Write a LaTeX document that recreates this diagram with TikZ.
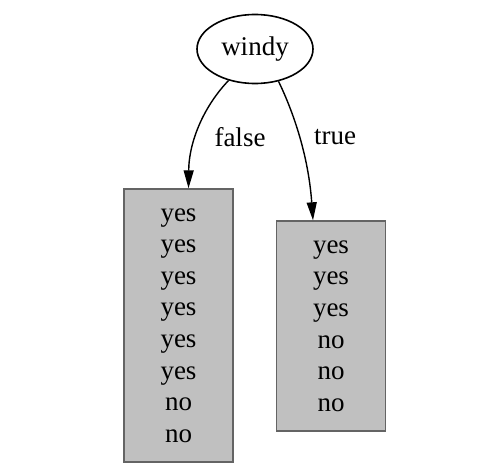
\documentclass[tikz,border=0pt]{standalone}
\usepackage{fontspec}
\setmainfont{Liberation Serif}
\usetikzlibrary{shapes.geometric,arrows.meta}
\definecolor{leafgray}{RGB}{192,192,192}
\definecolor{leafedge}{RGB}{100,100,100}
\tikzset{
  decision/.style={ellipse,draw=black,line width=1.6pt,minimum width=116pt,minimum height=69pt,inner sep=0pt,font=\fontsize{27}{31.6}\selectfont},
  leaf/.style={rectangle,draw=leafedge,fill=leafgray,line width=1.4pt,minimum width=109pt,align=center,inner sep=0pt,font=\fontsize{27}{31.6}\selectfont},
  branch/.style={line width=1.4pt,-{Triangle[length=18pt,width=10pt]}},
  elabel/.style={font=\fontsize{27}{31.6}\selectfont,inner sep=0pt}
}
\begin{document}
\begin{tikzpicture}[x=1pt,y=-1pt]
\useasboundingbox (0,0) rectangle (492,471);
\node[decision] (w) at (255,49) {windy};
\node[leaf,minimum height=273pt] (l) at (178.5,325.5) {yes\\yes\\yes\\yes\\yes\\yes\\no\\no};
\node[leaf,minimum height=210pt] (r) at (331,326) {yes\\yes\\yes\\no\\no\\no};
\draw[branch] (w.230) .. controls (205,105) and (189,140) .. ([xshift=10pt]l.north);
\draw[branch] (w.306) .. controls (290,105) and (308,150) .. ([xshift=-18pt]r.north);
\node[elabel] (fl) at (240,137) {false};
\node[elabel] (tl) at (335,137) {true};
\end{tikzpicture}
\end{document}
